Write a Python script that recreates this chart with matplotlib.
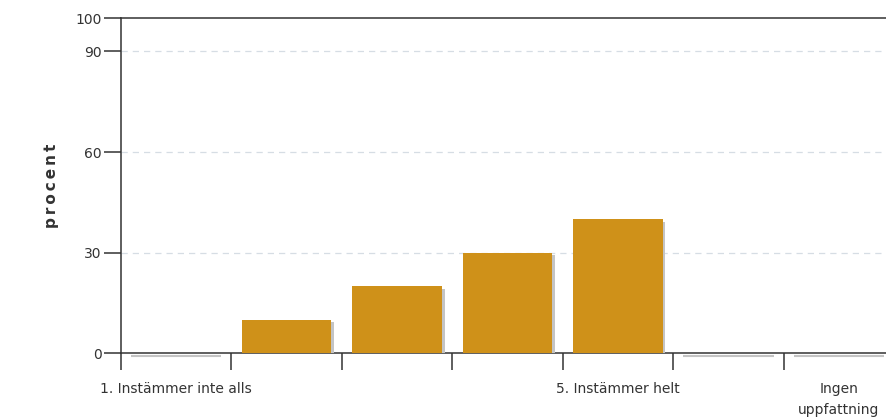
import matplotlib
matplotlib.use("Agg")
import matplotlib.pyplot as plt
import matplotlib.patheffects as pe

# categories on the x axis (only some have a printed label)
categories = [1, 2, 3, 4, 5, 6, 7]
tick_labels = ["1. Instämmer inte alls", "", "", "", "5. Instämmer helt", "", "Ingen\nuppfattning"]
percent = [0, 10, 20, 30, 40, 0, 0]

yticks = [0, 30, 60, 90, 100]

bar_color = "#cf9119"
text_color = "#333333"

fig = plt.figure(figsize=(8.87, 4.19), dpi=100)
ax = fig.add_axes([121 / 887, (419 - 353) / 419, 773 / 887, 335 / 419])

bars = ax.bar(categories, percent, width=0.81, color=bar_color, zorder=3)
for b in bars:
    b.set_path_effects([pe.SimplePatchShadow(offset=(2, -2), shadow_rgbFace="#c4c4c4", alpha=1.0),
                        pe.Normal()])

# empty categories get a thin grey line just under the axis
for c, v in zip(categories, percent):
    if v == 0:
        ax.plot([c - 0.41, c + 0.41], [-0.9, -0.9], color="#c4c4c4", lw=1.5, zorder=2,
                solid_capstyle="butt", clip_on=False)

ax.set_xlim(0.5, 7.5)
ax.set_ylim(0, 100)

ax.set_yticks(yticks)
ax.set_yticklabels([str(t) for t in yticks])
for t in [30, 60, 90]:
    ax.axhline(t, color="#d6dde4", lw=0.9, ls=(0, (5, 4)), zorder=1)

ax.set_xticks([c + 0.5 for c in categories[:-1]] + [0.5])
ax.set_xticklabels([])
ax.set_xticks(categories, minor=True)
ax.set_xticklabels(tick_labels, minor=True)
ax.tick_params(axis="x", which="minor", length=0, pad=21, labelsize=10, labelcolor=text_color)
ax.tick_params(axis="x", which="major", length=12, width=1.1, color="#333333", direction="out")
ax.tick_params(axis="y", length=12, width=1.1, color="#333333", labelsize=10,
               labelcolor=text_color, pad=2)

for lbl in ax.get_xticklabels(minor=True):
    lbl.set_linespacing(1.6)

for s in ["left", "bottom", "top"]:
    ax.spines[s].set_color("#333333")
    ax.spines[s].set_linewidth(1.1)
ax.spines["right"].set_visible(False)

ax.set_ylabel("\u2009".join("procent"), fontsize=11, color=text_color, fontweight="bold",
              labelpad=12)

fig.savefig("out.png", dpi=100)
